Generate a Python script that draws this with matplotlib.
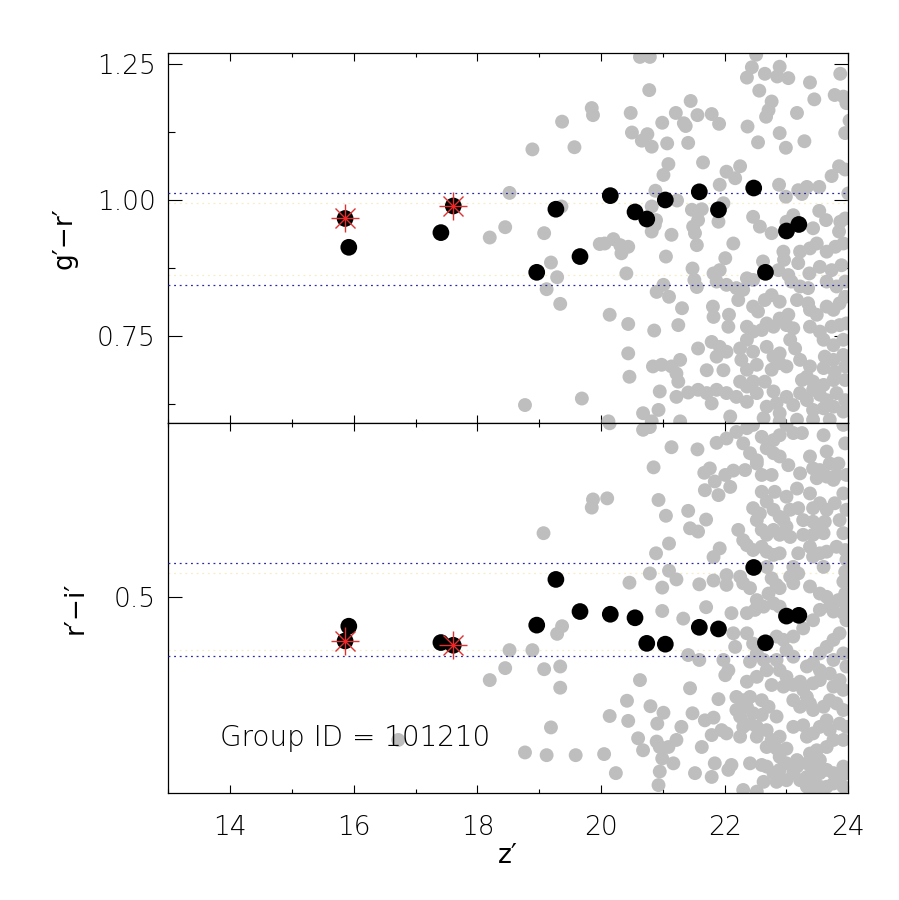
import numpy as np
import matplotlib
matplotlib.use("Agg")
import matplotlib.pyplot as plt
from matplotlib.ticker import MultipleLocator, FixedLocator

# ---------------- data ----------------
# group members (black) : z', g'-r', r'-i'
mem_z  = [15.86, 15.92, 17.41, 17.61, 18.96, 19.27, 19.66, 20.15, 20.55, 20.74,
          21.04, 21.59, 21.90, 22.47, 22.66, 23.00, 23.20]
mem_gr = [0.966, 0.913, 0.940, 0.989, 0.867, 0.983, 0.896, 1.008, 0.978, 0.965,
          1.000, 1.015, 0.982, 1.022, 0.867, 0.943, 0.955]
mem_ri = [0.420, 0.447, 0.417, 0.412, 0.449, 0.533, 0.474, 0.469, 0.4625, 0.4155,
          0.414, 0.445, 0.442, 0.555, 0.4165, 0.4656, 0.467]
# brightest galaxies (red asterisks)
bcg_z  = [15.86, 17.61]
bcg_gr = [0.966, 0.989]
bcg_ri = [0.420, 0.412]

# red-sequence limits
gr_lims = [1.012, 0.844]
gr_inner = [0.994, 0.862]
ri_lims = [0.564, 0.393]
ri_inner = [0.544, 0.403]

# field galaxies (grey): (z', g'-r')
field_top = [
(19.85,1.169),(19.87,1.156),(19.37,1.144),(18.89,1.093),(19.57,1.097),(18.52,1.013),(19.36,0.988),
(18.45,0.950),(18.20,0.931),(19.08,0.939),(19.98,0.919),(19.19,0.885),(19.29,0.858),(19.12,0.836),
(19.34,0.809),(18.77,0.623),(19.69,0.635),
(20.63,1.263),(20.79,1.263),(20.78,1.202),(20.48,1.160),(20.50,1.124),(20.75,1.121),(20.66,1.109),
(20.82,1.098),(20.99,1.142),(21.07,1.104),(21.21,1.160),(21.34,1.141),(21.37,1.136),(21.45,1.182),
(21.56,1.156),(21.79,1.158),(21.91,1.140),(21.41,1.105),(21.09,1.066),(21.01,1.046),(21.65,1.069),
(20.88,1.017),(20.82,0.988),(20.89,0.963),(21.23,0.999),(21.47,0.982),(21.63,0.983),(21.57,0.963),
(21.92,1.028),(22.03,1.052),(22.17,1.040),(22.25,1.062),(21.98,0.994),(21.90,0.960),(22.36,1.225),
(22.44,1.244),(22.51,1.267),(22.56,1.201),(22.65,1.232),(22.89,1.245),(22.85,1.227),(23.03,1.224),
(22.76,1.181),(22.71,1.165),(22.67,1.153),(22.37,1.135),(22.54,1.106),(22.89,1.123),(22.99,1.096),
(23.17,1.160),(23.38,1.216),(23.45,1.185),(23.29,1.108),(23.87,1.232),(23.78,1.193),(23.92,1.190),
(23.97,1.178),(24.02,1.146),(23.95,1.123),(23.73,1.044),(23.85,1.062),(23.95,1.056),(23.53,1.024),
(22.88,1.028),(22.99,1.006),(23.19,1.018),(23.33,1.024),(23.25,1.011),(22.46,0.969),(22.57,0.951),
(22.76,0.939),(23.00,0.960),(23.11,0.972),(23.53,0.980),(23.64,0.963),(23.87,0.960),(23.95,0.966),
(23.85,0.942),(24.00,1.012),(20.20,0.928),(21.14,0.936),(21.52,0.939),(21.49,0.951),
(21.55,0.917),(20.82,0.942),(20.87,0.954),(20.06,0.920),(20.31,0.917),(20.44,0.914),(20.33,0.902),
(21.05,0.896),(20.41,0.865),(21.48,0.874),(21.51,0.853),(21.55,0.840),(22.01,0.893),(22.14,0.920),
(21.82,0.865),(21.92,0.871),(21.87,0.850),(22.03,0.844),(22.95,0.905),(22.96,0.890),(22.62,0.887),
(22.36,0.856),(22.46,0.853),(22.87,0.871),(23.03,0.862),(23.08,0.850),(23.43,0.948),(23.22,0.905),
(23.38,0.911),(23.49,0.920),(23.65,0.905),(23.79,0.914),(23.92,0.920),(23.19,0.884),(23.37,0.865),
(23.54,0.877),(23.73,0.871),(23.89,0.880),(23.22,0.841),(23.35,0.838),(23.17,0.816),(23.35,0.810),
(23.65,0.850),(23.81,0.841),(23.95,0.850),(20.90,0.831),(21.10,0.822),(21.01,0.844),(20.14,0.789),
(20.44,0.772),(20.86,0.760),(21.25,0.770),(21.31,0.801),(21.81,0.804),(21.82,0.785),(22.07,0.789),
(22.06,0.767),(22.22,0.816),(22.19,0.838),(22.30,0.835),(22.46,0.804),(22.54,0.795),(22.65,0.816),
(22.76,0.825),(22.89,0.813),(23.03,0.789),(22.89,0.782),(22.79,0.767),(22.68,0.773),(22.46,0.758),
(22.60,0.761),(22.36,0.767),(23.00,0.770),(23.11,0.764),(23.06,0.743),(23.38,0.798),(23.49,0.789),
(23.65,0.804),(23.76,0.798),(23.86,0.810),(23.95,0.822),(23.38,0.767),(23.54,0.758),(23.73,0.767),
(23.86,0.770),(23.97,0.773),(23.60,0.743),(23.76,0.733),(23.92,0.743),(20.44,0.718),(20.46,0.675),
(21.57,0.727),(21.79,0.739),(21.92,0.730),(22.03,0.721),(21.87,0.712),(21.71,0.687),(21.98,0.687),
(20.84,0.694),(20.98,0.697),(21.14,0.694),(21.28,0.706),(21.22,0.681),(21.25,0.666),(22.25,0.727),
(22.36,0.743),(22.46,0.721),(22.27,0.706),(22.36,0.688),(22.52,0.697),(22.68,0.730),(22.79,0.712),
(22.89,0.718),(22.89,0.700),(22.76,0.688),(23.00,0.694),(23.14,0.727),(23.22,0.706),(23.38,0.694),
(23.33,0.675),(23.62,0.712),(23.76,0.706),(23.92,0.715),(23.60,0.691),(23.78,0.684),(23.95,0.694),
(23.76,0.669),(23.95,0.669),(20.95,0.648),(21.22,0.638),(21.41,0.646),(21.57,0.651),(21.71,0.645),
(21.87,0.651),(22.03,0.645),(21.79,0.626),(20.68,0.608),(20.93,0.614),(22.09,0.602),(22.19,0.638),
(22.36,0.629),(22.36,0.657),(22.52,0.645),(22.25,0.666),(22.46,0.666),(22.65,0.666),(22.79,0.648),
(22.84,0.626),(23.00,0.638),(23.11,0.623),(22.89,0.608),(22.68,0.620),(23.22,0.645),(23.33,0.632),
(23.43,0.651),(23.54,0.642),(23.65,0.632),(23.81,0.645),(23.95,0.632),(23.76,0.620),(23.60,0.617),
(23.43,0.614),(23.92,0.611),(23.25,0.669),(23.43,0.666),(23.60,0.660),(22.63,0.599),(22.89,0.593),
(23.17,0.596),(23.43,0.596),(23.70,0.596),(20.12,0.593),(20.82,0.593),(21.28,0.593),
]

# field galaxies (grey): (z', r'-i')
field_bot = [
(19.87,0.680),(19.85,0.665),(19.07,0.618),(19.37,0.447),(19.29,0.433),(18.52,0.403),(18.89,0.403),
(18.45,0.370),(18.20,0.348),(19.08,0.368),(19.34,0.373),(19.34,0.334),(19.19,0.261),(18.77,0.215),
(19.12,0.210),(19.59,0.210),(20.05,0.212),(16.72,0.238),
(20.14,0.820),(20.68,0.808),(20.79,0.813),(21.14,0.776),(21.56,0.772),(20.85,0.739),(20.10,0.682),
(20.93,0.679),(21.05,0.650),(21.41,0.659),(21.70,0.643),(21.44,0.627),(21.57,0.621),(21.10,0.599),
(20.89,0.581),(20.79,0.544),(21.10,0.549),(21.22,0.533),(20.46,0.527),(20.99,0.518),(21.59,0.524),
(21.82,0.531),(22.03,0.541),(22.03,0.523),(21.92,0.590),(21.82,0.574),(21.70,0.482),(20.99,0.475),
(21.67,0.729),(21.76,0.737),(21.84,0.713),(21.90,0.688),(21.68,0.697),(22.01,0.725),(22.14,0.733),
(22.33,0.734),(22.09,0.703),(21.87,0.784),(22.03,0.792),(22.19,0.804),(22.36,0.811),(22.46,0.817),
(22.60,0.795),(22.30,0.783),(22.41,0.765),(22.52,0.752),(22.68,0.774),(22.79,0.789),(22.89,0.798),
(23.00,0.817),(23.11,0.802),(23.25,0.802),(22.79,0.765),(22.89,0.759),(23.03,0.743),(23.22,0.728),
(23.17,0.700),(23.00,0.685),(22.60,0.725),(22.76,0.725),(22.52,0.746),(22.60,0.694),(22.81,0.694),
(22.68,0.676),(22.46,0.664),(22.57,0.654),(22.79,0.661),(22.89,0.648),(23.06,0.661),(23.19,0.664),
(22.52,0.642),(22.60,0.624),(22.68,0.615),(22.79,0.624),(22.89,0.615),(23.00,0.630),(22.95,0.642),
(23.06,0.611),(22.22,0.624),(22.30,0.605),(22.36,0.596),(22.46,0.587),(22.60,0.593),(22.68,0.584),
(22.79,0.578),(22.89,0.581),(23.19,0.581),(23.38,0.593),(23.43,0.575),(23.54,0.581),(23.65,0.584),
(23.60,0.556),(23.27,0.642),(23.43,0.639),(23.51,0.624),(23.43,0.615),(23.27,0.615),(23.60,0.618),
(23.62,0.639),(23.38,0.759),(23.43,0.737),(23.54,0.734),(23.49,0.719),(23.65,0.722),(23.76,0.716),
(23.81,0.725),(23.70,0.746),(23.84,0.746),(23.60,0.798),(23.65,0.768),(23.95,0.783),(23.92,0.817),
(23.97,0.725),(23.38,0.691),(23.54,0.673),(23.65,0.661),(23.43,0.664),(23.78,0.673),(23.92,0.691),
(23.97,0.661),(23.86,0.642),(23.92,0.618),(23.81,0.593),(23.95,0.587),(23.97,0.569),(23.95,0.547),
(23.11,0.556),(23.19,0.544),(23.06,0.538),(23.11,0.526),(22.68,0.556),(22.76,0.535),(22.84,0.523),
(22.89,0.517),(22.71,0.507),(22.79,0.489),(22.89,0.483),(22.25,0.538),(22.30,0.526),(22.41,0.517),
(22.52,0.495),(22.63,0.483),(22.49,0.477),(22.36,0.471),(23.38,0.520),(23.54,0.507),(23.65,0.501),
(23.76,0.489),(23.84,0.495),(23.95,0.507),(23.92,0.529),(23.97,0.483),(23.76,0.474),(23.92,0.471),
(22.11,0.471),
(21.33,0.461),(21.41,0.394),(21.59,0.385),(20.63,0.348),(21.44,0.333),(20.42,0.310),(20.80,0.300),
(20.14,0.282),(20.44,0.273),(21.01,0.288),(20.91,0.268),(21.90,0.313),(21.48,0.287),(21.68,0.274),
(21.82,0.279),(21.30,0.262),(21.22,0.238),(21.09,0.225),(20.95,0.225),(20.99,0.204),(21.17,0.195),
(20.60,0.241),(20.68,0.219),(20.90,0.235),(21.63,0.225),(21.79,0.247),(21.95,0.256),(22.03,0.250),
(22.25,0.244),(21.98,0.385),(22.06,0.366),(22.01,0.357),(22.14,0.434),(22.17,0.409),(20.24,0.177),
(20.95,0.180),(20.93,0.155),(21.52,0.177),(21.79,0.170),(21.84,0.195),(22.06,0.183),(22.11,0.192),
(22.30,0.146),(22.52,0.143),(22.41,0.195),(22.60,0.192),
(22.19,0.317),(22.30,0.311),(22.36,0.299),(22.19,0.293),(22.46,0.287),(22.25,0.281),(22.41,0.268),
(22.30,0.262),(22.52,0.262),(22.60,0.284),(22.41,0.317),(22.52,0.354),(22.36,0.345),(22.76,0.339),
(22.60,0.311),(22.71,0.299),(22.84,0.281),(22.68,0.256),(22.52,0.244),(22.76,0.238),(22.89,0.244),
(22.68,0.225),(22.84,0.222),(23.00,0.222),(22.89,0.207),(23.00,0.195),(23.17,0.201),(22.36,0.434),
(22.46,0.415),(22.52,0.397),(22.63,0.385),(22.41,0.382),(22.84,0.428),(22.95,0.422),(23.00,0.403),
(23.11,0.391),(22.84,0.385),(22.68,0.366),(22.89,0.366),(23.00,0.354),(22.95,0.336),(23.11,0.339),
(23.22,0.345),(23.27,0.330),(23.33,0.317),(23.38,0.305),(23.11,0.311),(23.22,0.299),(23.11,0.428),
(23.27,0.443),(23.43,0.458),(23.54,0.477),(23.70,0.483),(23.97,0.458),(23.86,0.434),(23.76,0.422),
(23.65,0.409),(23.54,0.397),(23.43,0.379),(23.33,0.373),(23.54,0.366),(23.76,0.385),(23.92,0.397),
(23.97,0.373),(23.86,0.348),(23.76,0.336),(23.92,0.330),(23.70,0.360),(23.54,0.348),(23.43,0.342),
(23.43,0.293),(23.60,0.299),(23.70,0.311),(23.81,0.305),(23.92,0.293),(23.65,0.274),(23.54,0.262),
(23.43,0.250),(23.33,0.244),(23.11,0.262),(23.27,0.265),(23.70,0.256),(23.86,0.268),(23.97,0.262),
(23.92,0.238),(23.76,0.238),(23.65,0.225),(23.49,0.219),(23.38,0.213),(23.54,0.201),(23.43,0.189),
(23.33,0.195),(23.17,0.189),(23.11,0.177),(23.00,0.164),(23.22,0.164),(23.33,0.170),(23.43,0.170),
(23.54,0.177),(23.65,0.183),(23.76,0.177),(23.92,0.189),(23.97,0.177),(23.86,0.164),(23.76,0.158),
(23.65,0.152),(23.54,0.152),(23.43,0.152),(23.33,0.152),(23.92,0.152),(22.79,0.177),(22.84,0.161),
(22.63,0.161),(22.68,0.189),(22.89,0.183),
]

group_label = "Group ID = 101210"
xlim = (13, 24)
gr_ylim = (0.5895, 1.2697)
ri_ylim = (0.14, 0.82)

# ---------------- plotting ----------------
plt.rcParams['font.family'] = ['DejaVu Sans']
plt.rcParams['font.weight'] = 'light'
FS = 19
GREY = '#bebebe'

fig = plt.figure(figsize=(8.99, 9.00), dpi=100)
L, R = 0.1872, 0.9436
axT = fig.add_axes([L, 0.5297, R - L, 0.9408 - 0.5297])
axB = fig.add_axes([L, 0.1186, R - L, 0.5297 - 0.1186])

ftz, ftc = np.array(field_top).T
fbz, fbc = np.array(field_bot).T

for ax, fz, fc, mc, bc, lims, inner, ylim in [
        (axT, ftz, ftc, mem_gr, bcg_gr, gr_lims, gr_inner, gr_ylim),
        (axB, fbz, fbc, mem_ri, bcg_ri, ri_lims, ri_inner, ri_ylim)]:
    ax.scatter(fz, fc, s=100, c=GREY, edgecolors='none', zorder=2, clip_on=True)
    for v in inner:
        ax.axhline(v, color='#f3eec8', lw=0.9, ls=(0, (1.5, 3)), zorder=1)
    for v in lims:
        ax.axhline(v, color='#2a2aa0', lw=0.9, ls=(0, (1.5, 3)), zorder=3)
    ax.scatter(mem_z, mc, s=145, c='black', edgecolors='none', zorder=4)
    ax.plot(bcg_z, bc, ls='none', marker='+', ms=20, mew=1.0, color='#e03030', zorder=5)
    ax.plot(bcg_z, bc, ls='none', marker='x', ms=14, mew=1.0, color='#e03030', zorder=5)
    ax.plot(bcg_z, bc, ls='none', marker='o', ms=2.5, color='#ff2020', mec='none', zorder=6)
    ax.set_xlim(*xlim)
    ax.set_ylim(*ylim)
    ax.xaxis.set_major_locator(MultipleLocator(2))
    ax.xaxis.set_minor_locator(MultipleLocator(1))
    ax.tick_params(axis='both', which='both', direction='in', top=True, right=True,
                   labelsize=FS, colors='black')
    ax.tick_params(axis='x', which='major', length=6, width=0.8, pad=16)
    ax.tick_params(axis='x', which='minor', length=3, width=0.8)
    ax.tick_params(axis='y', which='major', length=10, width=0.8, pad=9)
    ax.tick_params(axis='y', which='minor', length=5, width=0.8)
    for sp in ax.spines.values():
        sp.set_linewidth(0.9)

axT.yaxis.set_major_locator(FixedLocator([0.75, 1.00, 1.25]))
axT.yaxis.set_minor_locator(MultipleLocator(0.125))
axT.yaxis.set_major_formatter(matplotlib.ticker.FormatStrFormatter('%.2f'))
axT.tick_params(axis='x', labelbottom=False)

axB.yaxis.set_major_locator(FixedLocator([0.5]))
axB.yaxis.set_minor_locator(FixedLocator([]))
axB.yaxis.set_major_formatter(matplotlib.ticker.FormatStrFormatter('%.1f'))

axT.set_ylabel("g\u2032\u2212r\u2032", fontsize=FS, labelpad=14)
axB.set_ylabel("r\u2032\u2212i\u2032", fontsize=FS, labelpad=18)
axB.set_xlabel("z\u2032", fontsize=FS, labelpad=2)

axB.text(13.84, 0.241, group_label, fontsize=20, ha='left', va='center', zorder=7)

fig.savefig("out.png", dpi=100)
